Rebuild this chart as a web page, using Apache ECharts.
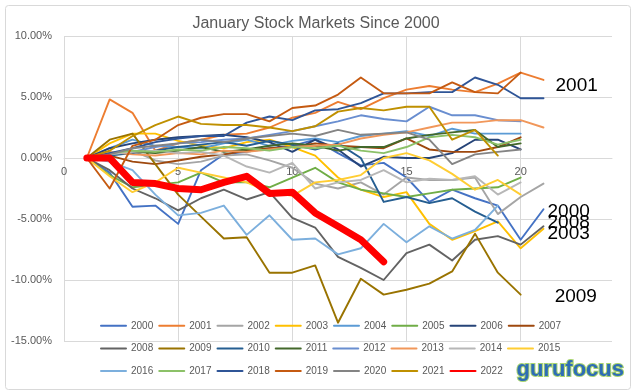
<!DOCTYPE html>
<html><head><meta charset="utf-8">
<script src="https://cdn.jsdelivr.net/npm/echarts@6/dist/echarts.min.js"></script>
<style>html,body{margin:0;padding:0;background:#fff}#c{width:632px;height:391px}</style>
</head><body><div id="c"></div>
<script>
const years = ['2000','2001','2002','2003','2004','2005','2006','2007','2008','2009','2010','2011','2012','2013','2014','2015','2016','2017','2018','2019','2020','2021','2022'];
const y2000 = [0,-1.2,-4.0,-3.9,-5.4,-1.0,0.3,0.5,0.8,1.0,1.5,0.4,-0.6,-0.4,-1.6,-3.6,-2.6,-3.3,-3.9,-6.7,-4.2];
const y2001 = [0,4.8,3.7,0.6,1.2,1.5,1.9,2.0,2.5,3.3,3.7,4.6,4.0,4.9,5.6,5.9,5.6,5.4,6.1,7.0,6.4];
const y2002 = [0,0.4,0.6,-0.2,-0.5,-0.3,0.2,0.3,-0.2,-0.8,-2.1,-2.5,-2.0,-3.0,-1.6,-1.8,-1.8,-1.6,-4.6,-3.2,-2.1];
const y2003 = [0,1.2,2.0,2.0,1.4,1.0,0.8,1.3,1.5,0.9,0.2,-1.6,-2.6,-3.2,-2.8,-5.4,-6.7,-6.0,-5.2,-7.4,-5.8];
const y2004 = [0,0.8,1.5,1.0,0.9,0.8,1.2,1.5,1.0,1.4,1.6,1.3,1.8,2.0,2.2,1.8,2.4,2.0,2.0,2.0];
const y2005 = [0,-1.4,-2.4,-2.2,-2.0,-1.2,-2.0,-2.0,-2.4,-1.6,-0.8,-2.0,-2.6,-2.9,-3.2,-2.9,-2.6,-2.5,-2.4,-1.6];
const y2006 = [0,0.8,1.2,1.5,1.7,1.8,1.9,1.7,1.3,0.5,1.5,0.7,-0.7,0.1,0.0,0.0,0.4,1.5,1.5,0.7];
const y2007 = [0,0.2,-0.3,-0.5,-0.2,0.1,0.3,0.6,0.8,0.9,1.2,1.0,0.9,0.8,1.6,0.7,0.5,0.5,0.9,1.7];
const y2008 = [0,-1.0,-2.5,-3.3,-4.3,-3.3,-2.6,-3.4,-2.8,-4.9,-5.7,-8.1,-9.0,-10.0,-7.8,-7.1,-8.4,-6.7,-6.4,-7.1,-5.6];
const y2009 = [0,1.5,2.0,-0.5,-3.0,-4.8,-6.6,-6.5,-9.4,-9.4,-8.8,-13.5,-9.9,-11.2,-10.8,-10.3,-9.3,-6.2,-9.4,-11.2];
const y2010 = [0,0.2,0.4,0.6,0.9,1.1,1.3,1.0,1.4,1.1,0.7,1.2,0.0,-3.6,-3.2,-3.7,-3.3,-4.4,-5.3];
const y2011 = [0,0.3,0.5,0.4,0.6,0.9,0.5,0.7,1.0,1.2,1.0,0.6,0.9,0.9,1.6,1.9,2.1,2.3,0.9,1.2];
const y2012 = [0,0.3,0.5,0.9,1.2,1.3,1.5,1.6,1.9,2.2,2.6,3.0,3.5,3.2,3.0,4.2,3.5,3.5,3.1,3.0];
const y2013 = [0,0.5,0.3,0.2,0.4,0.3,0.6,0.5,0.7,0.9,1.0,1.1,1.6,1.9,2.1,2.5,2.9,2.9,3.1,3.1,2.5];
const y2014 = [0,0.3,0.5,0.6,0.4,0.5,0.2,-0.7,-1.2,-0.4,-2.5,-2.0,-1.8,-1.0,-2.0,-1.7,-1.8,-1.5,-3.0,-2.0];
const y2015 = [0,-1.5,-2.8,-2.0,-0.8,-1.2,-1.6,-2.0,-2.8,-3.1,-2.0,-1.8,-1.4,0.0,0.4,-0.2,-1.3,-2.6,-1.8,-3.0];
const y2016 = [0,-0.3,-1.0,-3.0,-4.7,-4.5,-3.9,-6.3,-4.7,-6.7,-6.6,-7.9,-7.4,-5.4,-6.9,-5.6,-6.6,-5.9,-3.9];
const y2017 = [0,0.4,0.6,0.5,0.7,0.6,0.9,0.8,0.6,0.9,0.8,1.0,0.6,0.4,0.9,1.7,1.9,1.7,1.1,1.5];
const y2018 = [0,0.4,0.8,1.3,1.6,1.8,1.8,2.9,3.4,3.1,3.9,4.0,4.5,5.3,5.3,5.4,5.4,6.6,6.0,4.9,4.9];
const y2019 = [0,-2.5,1.0,1.5,2.7,3.3,3.6,3.6,3.0,4.1,4.3,5.2,6.6,5.3,5.3,5.3,6.2,5.4,5.3,7.0];
const y2020 = [0,0.3,0.8,1.0,1.2,1.5,1.3,1.6,1.8,2.0,1.8,2.3,1.9,2.0,2.1,1.5,-0.5,0.3,0.5,0.7];
const y2021 = [0,0.6,1.8,2.7,3.4,2.8,2.7,2.7,2.5,2.2,2.6,3.8,4.1,3.9,4.2,4.2,1.5,2.3,0.2];
const y2022 = [0,0,-2.0,-2.1,-2.5,-2.6,-2.0,-1.5,-2.9,-2.8,-4.5,-5.6,-6.7,-8.5];
const yTicks = [-15,-10,-5,0,5,10];
const xTicks = [0,5,10,15,20];
const labelled = ['2000','2001','2003','2008','2009'];

const allValues = [y2000,y2001,y2002,y2003,y2004,y2005,y2006,y2007,y2008,y2009,y2010,y2011,y2012,y2013,y2014,y2015,y2016,y2017,y2018,y2019,y2020,y2021,y2022];
const colors = ['#4472C4','#ED7D31','#A5A5A5','#FFC000','#5B9BD5','#70AD47','#264478','#9E480E','#636363','#997300','#255E91','#43682B','#698ED0','#F1975A','#B7B7B7','#FFCD33','#7CAFDD','#8CC168','#2F5597','#C55A11','#848484','#BF9000','#FF0000'];
const labelOffset = {'2000':[0,3],'2001':[8,6],'2003':[0,5],'2008':[0,-4],'2009':[30,2]};

const series = years.map((y, i) => {
  const s = {
    name: y, type: 'line', symbol: 'none', showSymbol: false,
    data: allValues[i].map((v, k) => [k + 1, v]),
    lineStyle: {color: colors[i], width: y === '2022' ? 7 : 1.9, cap: 'round', join: 'round'},
    itemStyle: {color: colors[i]},
    z: y === '2022' ? 10 : 2,
    animation: false
  };
  if (labelled.includes(y)) {
    s.endLabel = {show: true, formatter: y, color: '#000', fontSize: 19, fontFamily: 'Liberation Sans, Arial', distance: 4, offset: labelOffset[y]};
  }
  return s;
});

const chart = echarts.init(document.getElementById('c'), null, {renderer: 'canvas'});
const gridTop = 36, gridBottom = 50, H = 391;
const plotH = H - gridTop - gridBottom;
const zeroOffset = plotH * (0 - yTicks[0]) / (yTicks[yTicks.length-1] - yTicks[0]);
chart.setOption({
  animation: false,
  backgroundColor: '#fff',
  color: colors,
  title: {text: 'January Stock Markets Since 2000', left: 'center', top: 11,
    textStyle: {fontSize: 16, fontWeight: 'normal', color: '#595959', fontFamily: 'Liberation Sans, Arial'}},
  grid: {left: 64, right: 20, top: gridTop, bottom: gridBottom, containLabel: false},
  xAxis: {type: 'value', min: xTicks[0], max: 24, interval: 5, position: 'bottom', offset: -zeroOffset,
    axisLine: {show: true, onZero: false, lineStyle: {color: '#d9d9d9'}},
    axisTick: {show: false},
    axisLabel: {color: '#595959', fontSize: 11, margin: 8, fontFamily: 'Liberation Sans, Arial',
      formatter: v => (xTicks.includes(v) ? String(v) : '')},
    splitLine: {show: true, lineStyle: {color: ['#d9d9d9','#d9d9d9','#d9d9d9','#d9d9d9','#d9d9d9','rgba(0,0,0,0)'], width: 1}}
  },
  yAxis: {type: 'value', min: yTicks[0], max: yTicks[yTicks.length-1], interval: 5,
    axisLine: {show: false}, axisTick: {show: false},
    axisLabel: {color: '#595959', fontSize: 11, margin: 12, fontFamily: 'Liberation Sans, Arial',
      formatter: v => v.toFixed(2) + '%'},
    splitLine: {lineStyle: {color: '#d9d9d9', width: 1}}
  },
  legend: {data: years, left: 95, top: 312, width: 482, orient: 'horizontal',
    itemWidth: 25, itemHeight: 22, itemGap: 5,
    itemStyle: {opacity: 0},
    textStyle: {color: '#595959', fontSize: 10, fontFamily: 'Liberation Sans, Arial'}},
  graphic: [
    {type: 'rect', left: 3, top: 3, shape: {width: 625, height: 384, r: 3}, style: {fill: 'none', stroke: '#d9d9d9', lineWidth: 1}, z: -1},
    {type: 'text', right: 7, top: 358, style: {text: 'gurufocus', fontSize: 22, fontWeight: 'bold', fontFamily: 'Liberation Sans Narrow, Liberation Sans, Arial', fill: '#2f6db5', stroke: '#a8d46f', lineWidth: 2}}
  ],
  series: series
});
</script></body></html>
